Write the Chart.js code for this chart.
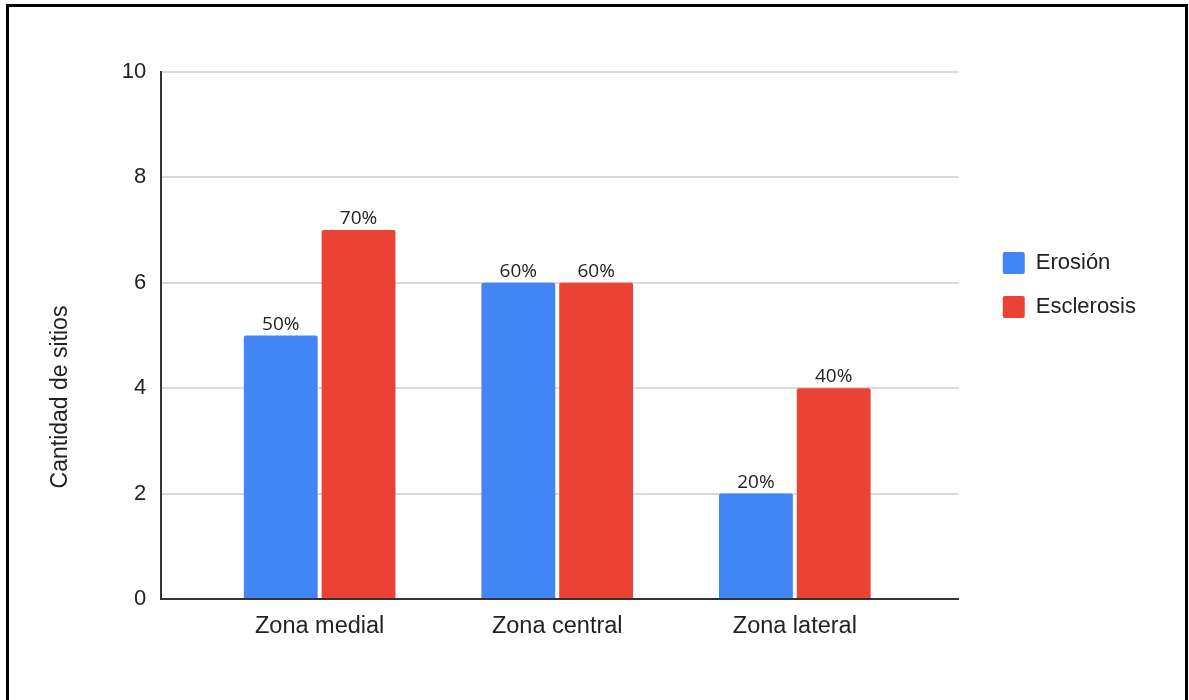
<!DOCTYPE html>
<html lang="es">
<head>
<meta charset="utf-8">
<title>Cantidad de sitios por zona</title>
<script src="https://cdn.jsdelivr.net/npm/chart.js@4.4.1/dist/chart.umd.min.js"></script>
<style>
  html, body { margin: 0; padding: 0; background: #fff; }
  #stage { position: relative; width: 1189px; height: 700px; overflow: hidden; background: #fff; }
  #chart { position: absolute; left: 0; top: 0; }
  #frame {
    position: absolute; left: 6px; top: 4px; width: 1182px; height: 800px;
    box-sizing: border-box; border: 3px solid #000; pointer-events: none;
  }
</style>
</head>
<body>
<div id="stage">
  <canvas id="chart" width="1189" height="800"></canvas>
  <div id="frame"></div>
</div>
<script>
// Categorías (zonas) y cantidad de sitios por hallazgo
const zonas = ['Zona medial', 'Zona central', 'Zona lateral'];
const erosion = [5, 6, 2];
const esclerosis = [7, 6, 4];
// Total de sitios evaluados por zona (base de los porcentajes)
const totalSitios = 10;
// Marcas del eje vertical
const yTicks = [0, 2, 4, 6, 8, 10];

const FAMILY = "'Liberation Sans', Arial, Helvetica, sans-serif";
const TEXT = '#222222';

const toPoints = arr => arr.map((v, i) => ({ x: i, y: v }));

// Etiqueta de porcentaje sobre cada barra
const etiquetasPorcentaje = {
  id: 'etiquetasPorcentaje',
  afterDatasetsDraw(chart) {
    const ctx = chart.ctx;
    ctx.save();
    ctx.font = "19px 'Open Sans', 'Noto Sans', sans-serif";
    ctx.fillStyle = TEXT;
    ctx.textAlign = 'center';
    ctx.textBaseline = 'alphabetic';
    chart.data.datasets.forEach((ds, di) => {
      const meta = chart.getDatasetMeta(di);
      meta.data.forEach((bar, i) => {
        const v = ds.data[i].y;
        ctx.fillText(Math.round(v / totalSitios * 100) + '%', bar.x, bar.y - 6);
      });
    });
    ctx.restore();
  }
};

new Chart(document.getElementById('chart'), {
  type: 'bar',
  data: {
    datasets: [
      {
        label: 'Erosión',
        data: toPoints(erosion),
        backgroundColor: '#4285F4',
        borderWidth: 0,
        borderRadius: 2,
        borderSkipped: 'start'
      },
      {
        label: 'Esclerosis',
        data: toPoints(esclerosis),
        backgroundColor: '#EA4335',
        borderWidth: 0,
        borderRadius: 2,
        borderSkipped: 'start'
      }
    ]
  },
  options: {
    responsive: false,
    animation: false,
    events: [],
    layout: { padding: { left: 0, top: 72, right: 43, bottom: 78 } },
    datasets: { bar: { categoryPercentage: 0.655, barPercentage: 0.949 } },
    scales: {
      x: {
        type: 'linear',
        min: -0.667,
        max: 2.69,
        offset: false,
        grid: { display: false, offset: false, drawTicks: false },
        border: { display: true, color: '#333333', width: 2 },
        afterBuildTicks: s => { s.ticks = zonas.map((_, i) => ({ value: i })); },
        afterFit: s => { s.height = 123; },
        ticks: {
          callback: v => zonas[v] ?? '',
          font: { family: FAMILY, size: 23.5 },
          color: TEXT,
          padding: 13,
          maxRotation: 0,
          autoSkip: false
        }
      },
      y: {
        min: 0,
        max: 10,
        afterBuildTicks: s => { s.ticks = yTicks.map(v => ({ value: v })); },
        afterFit: s => { s.width = 86.6; },
        grid: { color: '#d9d9d9', lineWidth: 2, drawTicks: false },
        border: { display: true, color: '#333333', width: 2 },
        ticks: { font: { family: FAMILY, size: 22 }, color: TEXT, padding: 15 }
      },
      y2: {
        position: 'right',
        display: true,
        grid: { display: false, drawTicks: false },
        border: { display: false },
        ticks: { display: false },
        afterFit: s => { s.width = 22; }
      }
    },
    plugins: {
      title: {
        display: true,
        position: 'left',
        fullSize: true,
        text: 'Cantidad de sitios',
        color: TEXT,
        font: { family: FAMILY, size: 23, weight: 'normal', lineHeight: 1.2 },
        padding: { top: 47, bottom: 0 }
      },
      legend: {
        position: 'right',
        align: 'start',
        fullSize: false,
        maxWidth: 400,
        title: {
          display: true,
          text: ' ',
          font: { size: 10, lineHeight: 1 },
          padding: { top: 148, bottom: 0 }
        },
        labels: {
          boxWidth: 22,
          boxHeight: 22,
          padding: 22,
          color: TEXT,
          font: { family: FAMILY, size: 22 },
          useBorderRadius: true,
          borderRadius: 2
        }
      },
      tooltip: { enabled: false }
    }
  },
  plugins: [etiquetasPorcentaje]
});
</script>
</body>
</html>
